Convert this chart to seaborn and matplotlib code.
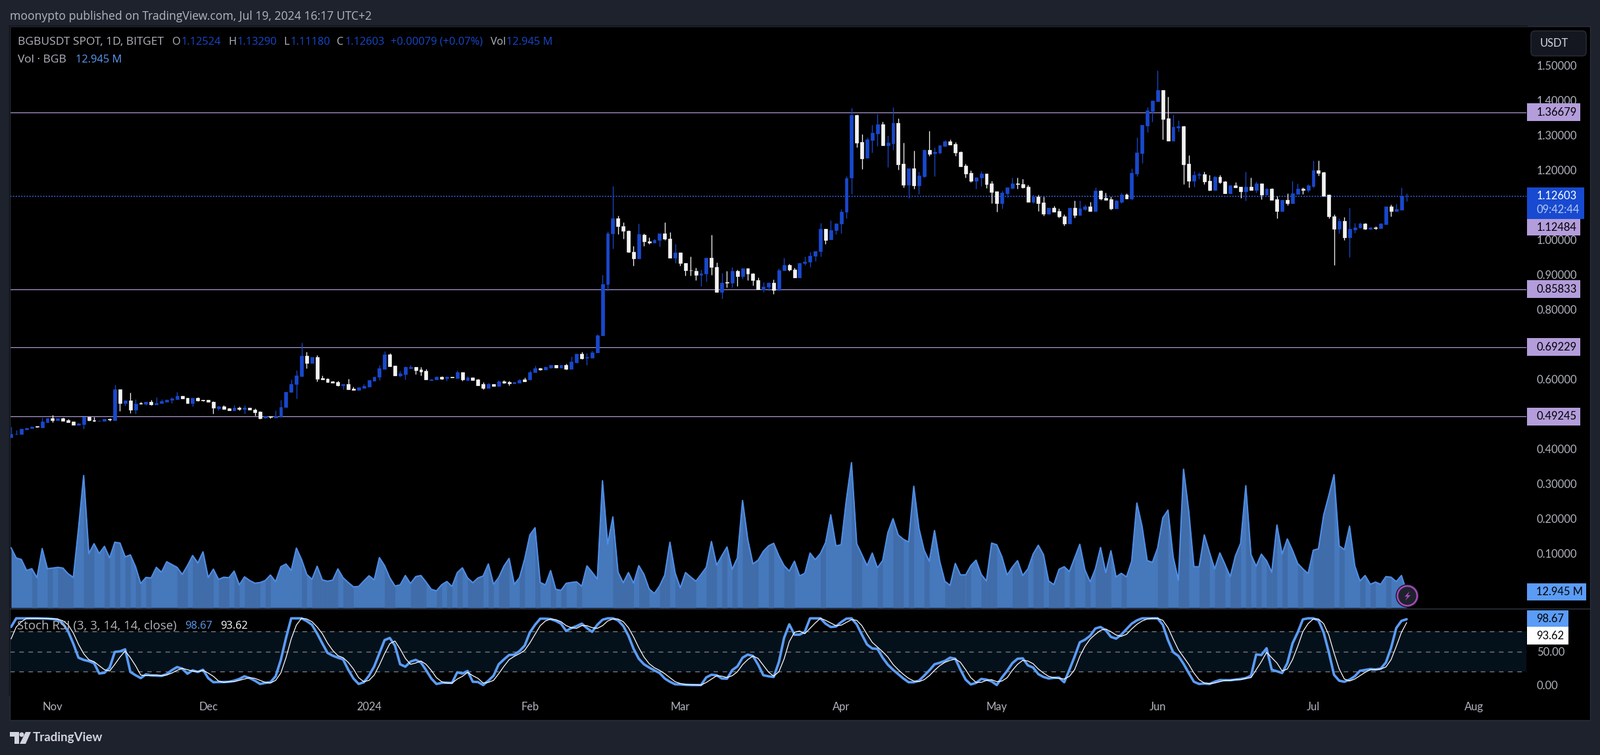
import numpy as np
import pandas as pd
import matplotlib
matplotlib.use("Agg")
import matplotlib.pyplot as plt
from matplotlib.patches import Rectangle, Circle, Polygon, FancyBboxPatch
from matplotlib.transforms import IdentityTransform
import seaborn as sns

opens = [.433,.442,.443,.456,.459,.465,.462,.477,.488,.483,
.488,.482,.478,.469,.471,.491,.483,.480,.481,.486,
.483,.570,.532,.538,.513,.532,.530,.535,.528,.532,
.535,.541,.543,.551,.546,.531,.546,.540,.540,.534,
.516,.522,.516,.511,.518,.515,.517,.513,.506,.489,
.494,.490,.493,.519,.564,.585,.609,.667,.646,.663,
.603,.601,.593,.592,.583,.586,.573,.569,.575,.579,
.596,.606,.630,.671,.639,.611,.614,.632,.635,.627,
.623,.598,.600,.607,.602,.606,.603,.620,.598,.605,
.600,.585,.575,.586,.581,.593,.592,.588,.590,.600,
.600,.620,.632,.627,.634,.641,.634,.641,.630,.649,
.673,.662,.662,.676,.725,.873,1.018,1.062,1.040,1.026,
.966,.946,1.015,.996,.992,.999,1.019,1.004,.948,.964,
.934,.913,.911,.899,.903,.949,.922,.850,.878,.876,
.911,.895,.919,.903,.885,.858,.865,.877,.856,.912,
.928,.915,.891,.934,.937,.954,.967,1.032,1.001,1.028,
1.046,1.080,1.178,1.358,1.281,1.235,1.287,1.306,1.332,1.272,
1.277,1.336,1.219,1.159,1.206,1.157,1.183,1.258,1.248,1.251,
1.270,1.283,1.275,1.253,1.213,1.193,1.170,1.178,1.191,1.162,
1.140,1.106,1.134,1.149,1.162,1.161,1.153,1.110,1.125,1.108,
1.076,1.093,1.082,1.068,1.046,1.093,1.072,1.089,1.095,1.083,
1.142,1.121,1.117,1.091,1.110,1.130,1.119,1.191,1.249,1.328,
1.369,1.398,1.430,1.349,1.285,1.322,1.326,1.219,1.170,1.186,
1.189,1.170,1.144,1.181,1.168,1.134,1.157,1.153,1.140,1.153,
1.144,1.162,1.130,1.146,1.117,1.083,1.115,1.106,1.132,1.146,
1.144,1.155,1.200,1.194,1.129,1.068,1.031,1.055,1.008,1.029,
1.035,1.046,1.031,1.036,1.033,1.044,1.095,1.082,1.087,1.12524]

highs = [.463,.454,.457,.462,.465,.465,.489,.488,.497,.488,
.489,.485,.479,.474,.491,.492,.491,.483,.486,.488,
.584,.571,.538,.561,.542,.535,.535,.540,.549,.542,
.542,.549,.563,.552,.546,.547,.549,.540,.540,.537,
.523,.525,.518,.525,.522,.525,.518,.516,.509,.494,
.494,.510,.540,.564,.600,.625,.705,.678,.663,.669,
.610,.602,.595,.595,.586,.601,.578,.576,.585,.597,
.606,.641,.680,.675,.639,.624,.636,.641,.635,.635,
.629,.601,.609,.609,.609,.607,.625,.620,.609,.605,
.601,.591,.589,.586,.597,.598,.595,.592,.601,.605,
.625,.638,.634,.636,.641,.641,.641,.644,.666,.673,
.679,.675,.683,.730,.900,1.024,1.154,1.070,1.050,1.027,
.982,1.046,1.019,1.008,1.004,1.019,1.050,1.023,.989,.964,
.934,.953,.921,.915,.949,1.015,.936,.906,.910,.923,
.915,.919,.919,.906,.892,.879,.879,.887,.919,.948,
.932,.921,.934,.953,.966,.968,1.048,1.032,1.057,1.048,
1.089,1.183,1.380,1.360,1.304,1.294,1.330,1.362,1.339,1.300,
1.381,1.349,1.279,1.206,1.257,1.196,1.260,1.313,1.266,1.272,
1.287,1.289,1.281,1.255,1.219,1.200,1.181,1.198,1.191,1.170,
1.140,1.142,1.151,1.179,1.179,1.176,1.159,1.129,1.129,1.125,
1.093,1.097,1.091,1.074,1.093,1.112,1.112,1.102,1.110,1.151,
1.144,1.136,1.125,1.114,1.136,1.134,1.206,1.294,1.330,1.381,
1.399,1.486,1.430,1.411,1.360,1.343,1.328,1.243,1.198,1.194,
1.196,1.187,1.185,1.187,1.170,1.159,1.166,1.153,1.196,1.178,
1.168,1.162,1.149,1.149,1.127,1.115,1.134,1.170,1.162,1.151,
1.161,1.228,1.228,1.196,1.130,1.074,1.061,1.065,1.093,1.048,
1.050,1.048,1.038,1.040,1.048,1.095,1.102,1.104,1.151,1.1329]

lows = [.433,.441,.443,.456,.459,.461,.462,.477,.477,.483,
.481,.477,.469,.469,.458,.481,.479,.480,.481,.481,
.483,.509,.524,.503,.501,.529,.526,.526,.528,.532,
.535,.532,.543,.544,.531,.522,.537,.537,.534,.501,
.511,.515,.511,.511,.511,.501,.513,.496,.486,.488,
.488,.489,.490,.519,.564,.545,.609,.631,.646,.593,
.600,.592,.590,.581,.571,.571,.569,.569,.575,.579,
.596,.598,.630,.637,.611,.607,.600,.631,.614,.611,
.600,.595,.600,.600,.596,.604,.603,.596,.596,.598,
.583,.571,.575,.581,.581,.588,.583,.588,.590,.593,
.598,.620,.625,.627,.632,.634,.634,.628,.630,.647,
.658,.641,.662,.676,.725,.854,.975,1.016,1.004,.963,
.925,.946,.982,.989,.992,.980,1.000,.948,.934,.925,
.898,.898,.885,.868,.881,.900,.850,.831,.864,.864,
.868,.889,.885,.870,.858,.851,.854,.845,.856,.912,
.910,.891,.891,.927,.923,.940,.953,.989,1.001,1.016,
1.019,1.061,1.132,1.266,1.203,1.235,1.251,1.270,1.272,1.210,
1.258,1.202,1.151,1.121,1.147,1.132,1.178,1.241,1.183,1.247,
1.268,1.273,1.241,1.211,1.178,1.166,1.147,1.155,1.149,1.106,
1.080,1.091,1.123,1.147,1.147,1.149,1.110,1.106,1.082,1.070,
1.074,1.080,1.063,1.042,1.046,1.063,1.072,1.085,1.083,1.083,
1.114,1.115,1.087,1.091,1.106,1.119,1.114,1.183,1.221,1.309,
1.339,1.398,1.289,1.285,1.285,1.311,1.161,1.151,1.153,1.176,
1.161,1.142,1.144,1.162,1.134,1.134,1.151,1.121,1.112,1.144,
1.136,1.117,1.130,1.115,1.061,1.083,1.099,1.106,1.132,1.132,
1.138,1.151,1.185,1.127,1.061,.927,1.018,.999,.950,1.021,
1.033,1.029,1.029,1.029,1.033,1.044,1.067,1.082,1.087,1.1118]

closes = [.443,.443,.457,.459,.464,.463,.478,.487,.482,.488,
.481,.477,.469,.472,.491,.482,.480,.481,.485,.484,
.570,.532,.538,.513,.530,.530,.534,.527,.532,.537,
.541,.544,.551,.544,.531,.546,.539,.538,.534,.517,
.522,.515,.511,.517,.514,.517,.513,.505,.488,.494,
.491,.494,.519,.564,.585,.610,.667,.646,.663,.601,
.600,.592,.590,.583,.586,.571,.569,.576,.580,.597,
.606,.631,.671,.637,.611,.616,.635,.635,.625,.622,
.600,.600,.607,.601,.607,.604,.620,.600,.605,.598,
.583,.575,.586,.581,.593,.590,.588,.591,.598,.593,
.620,.632,.627,.635,.641,.634,.641,.630,.651,.673,
.660,.664,.677,.726,.873,1.019,1.062,1.039,1.026,.965,
.946,1.016,.995,.992,1.000,1.019,1.003,.948,.964,.933,
.912,.912,.899,.903,.949,.922,.850,.877,.876,.911,
.895,.919,.903,.884,.858,.866,.877,.856,.913,.928,
.914,.891,.934,.937,.954,.968,1.032,1.000,1.028,1.047,
1.081,1.177,1.358,1.279,1.234,1.289,1.307,1.332,1.272,1.279,
1.336,1.217,1.159,1.206,1.157,1.185,1.258,1.247,1.253,1.272,
1.283,1.273,1.251,1.211,1.191,1.170,1.179,1.191,1.161,1.138,
1.106,1.136,1.151,1.162,1.161,1.151,1.110,1.125,1.106,1.076,
1.093,1.080,1.067,1.046,1.093,1.072,1.091,1.095,1.083,1.142,
1.119,1.115,1.091,1.112,1.130,1.119,1.193,1.251,1.330,1.371,
1.399,1.430,1.347,1.285,1.324,1.326,1.217,1.170,1.187,1.189,
1.168,1.144,1.181,1.166,1.134,1.157,1.151,1.140,1.153,1.144,
1.162,1.130,1.146,1.115,1.083,1.115,1.106,1.134,1.146,1.144,
1.157,1.200,1.193,1.127,1.067,1.031,1.055,1.008,1.031,1.036,
1.046,1.031,1.036,1.033,1.046,1.095,1.082,1.089,1.127,1.12603]

volume_m = [49.2,40.8,39.5,30.5,32.0,24.6,48.5,32.0,32.5,33.1,
32.5,27.8,24.9,65,108.4,44.4,52.5,44.4,50.3,40.8,
53.7,53,41.7,43.3,33.6,19.8,24.8,24.4,33.1,29.1,
37.7,35.4,33.1,27.3,34.5,42.8,36.7,45.8,24.8,31.6,
23.2,25,24.6,30,18.7,25.3,22.3,20.1,20.6,22.3,
26.8,21.4,33.6,35.8,30.5,48.9,39.5,27.3,23.3,34,
22.8,21.7,22.6,31.8,24.6,20.6,17.1,17.4,21.9,26.2,
22.8,41.1,34.5,24.6,17.8,18.7,26.4,19.8,25.5,26.4,
21,15.1,13.8,18.8,21.5,17.4,28.7,32.7,24.4,20.5,
24.4,26,35.9,19.2,24.8,34.1,40.4,19.2,24.6,39.9,
59.7,65.6,20.7,18.7,30.4,15.1,14.2,20,20.7,21.2,
17.6,34.3,29.1,23.5,104.1,52.1,74.4,29.1,20.5,28.8,
20.1,34.5,27.3,15.3,11.7,17.8,26.8,53.7,28.6,16.3,
28.8,25.2,21.7,27.3,33.1,54.3,34.9,42.6,49.8,31.5,
40.8,87.9,56.1,35.9,39,46.2,50.7,52.8,42.6,34.5,
30,38.1,26.1,28.2,44.8,39.4,44.4,53.4,76.2,50.7,
51.6,88.4,119,52.5,43.5,34.5,44.8,32.7,38.6,61.5,
73,59.7,56.1,53.9,99.6,65.1,47.1,38.1,63.3,38.1,
21.6,18.3,36.3,26.9,26.9,34.5,39,27.3,21.9,53,
51.6,41.7,26.8,33.3,38.6,26.4,31.8,44,51.2,43.5,
21.9,18.9,31.5,33.6,29.6,40.8,52,30.9,21.2,31.8,
49.4,28.8,46.7,25.2,28.2,25.2,38.1,85.8,66.9,38.6,
37.2,48.9,73.7,80,41.7,22.5,113.6,79.5,33.6,33.6,
59.7,45.3,31.8,44.9,35.4,25.5,42.6,52.8,100.1,43.5,
34,43.9,38.5,29.1,67.8,44,56.4,47.1,36.3,31.8,
28,47.1,48.3,75.9,92,109.1,50.7,47.6,66.9,34.5,
21.9,26.4,19.2,21,19.2,25.5,25,21.4,26.4,12.945]

stoch_k = [87,100,100,100,100,100,99.8,99.5,99,98,
92,80.5,62,41,37.7,35.8,32.8,17.3,18.3,26,
49.6,50.5,53.5,19.6,14.7,10.4,16,14.7,14,13.7,
16.4,22.3,26.9,24.6,17,22,19.6,22.9,10.4,4.2,
4.5,4.5,4.9,6.5,9.1,13.1,10.4,6.5,1.6,3.2,
4.2,13.1,37.7,70.6,100,100,100,95.9,90.3,77.2,
62.4,48.2,44,41,38.4,22.9,9.8,1.6,4.2,14,
27.9,47.6,67.3,70.6,59.1,31.1,27.5,35.1,37.7,33.8,
22.3,9.8,1.6,3.2,3.5,3.2,19,17.3,21,4.9,
4.5,0,6.5,14,31.1,38.4,45,45.6,50.9,59.1,
78.8,90.3,99.5,99.5,98.9,96.2,92,81.1,85.4,88.3,
92,85.4,79.8,90.3,97.9,100,100,96.9,88.7,73.9,
54.2,39.4,31.1,26.2,22,18,9.8,4.9,1.2,.9,
.3,0,0,0,11.4,15.4,14.7,9.8,9.5,22.3,
27.9,41,45.6,43.6,30.5,14.7,13.1,12.1,34.4,70.6,
91,75.5,75.5,79.8,100,100,100,92,87,87.7,
94.3,99.5,100,91,75.5,60.7,54.8,54.2,41,30.5,
22.9,16.4,9.8,4.2,4.2,6.5,14,22,31.1,33.4,
36.1,41,39.4,22.9,8.1,.9,3.2,9.1,8.1,5.5,
0,11.4,21.3,32.8,39.4,40,29.5,26.2,16.4,12.1,
9.8,10.8,11.1,4.2,22.9,42.7,64,68,73.9,84.7,
87,82.1,72.2,69.6,75.5,83.7,92,96.9,100,100,
100,100,90.3,67.3,49.2,43.6,31.8,18,4.9,1.6,
2.2,1.6,4.9,7.5,7.2,7.2,8.1,9.1,10.4,14,
45.9,45,55.1,22.9,20.6,18,32.8,62.4,78.8,98.5,
100,100,96.9,78.8,49.2,15.4,6.5,4.9,8.1,13.1,
21.3,22.6,23.9,23.3,24.6,33.8,55.8,85.4,96.2,98.67]

stoch_d = [69,87,95,100,100,100,99.9,99.8,99.4,98.8,
96.3,90.5,78,61,47,38,35,29,23,21,
31,42,51,41,29,15,14,14,15,14,
15,18,22,25,23,21,20,22,18,13,
6,4,5,5,7,9,11,10,7,4,
3,7,18,41,69,90,100,99,95,87,
77,63,52,44,41,34,24,11,5,7,
15,30,47,62,66,54,40,31,33,36,
31,22,11,5,3,3,9,13,19,14,
10,3,4,7,17,28,38,43,47,52,
63,76,89,96,99,98,95,89,86,85,
89,89,86,85,89,96,99,99,95,86,
72,56,42,32,26,22,17,11,5,2.3,
.8,.4,.1,0,3.8,8.9,13.9,13.3,11.3,13.9,
19.9,30.4,38.1,43.4,39.9,29.6,19.4,13.3,19.9,39,
65,79,81,77,85,93,100,97,93,89,
89.7,93.9,98,97,89,76,64,57,50,42,
31,23,16,10,6,5,8,14,22,29,
34,37,39,34,23,11,4,4,7,8,
5,6,11,22,31,37,36,32,24,18,
13,11,10,9,13,23,43,58,69,76,
82,84,80,75,73,76,84,91,96,99,
100,100,97,86,69,53,42,31,18,8,
3,2,3,5,7,7,8,8,10,11,
23,35,49,41,33,21,24,38,58,80,
92,99,99,92,75,48,24,9,6,9,
14,19,23,23,24,27,38,58,79,93.62]

month_pos = [8, 38, 69, 100, 129, 160, 190, 221, 251, 282]
month_labels = ["Nov", "Dec", "2024", "Feb", "Mar", "Apr", "May", "Jun", "Jul", "Aug"]
price_ticks = [0.1, 0.2, 0.3, 0.4, 0.6, 0.8, 0.9, 1.0, 1.2, 1.3, 1.4, 1.5]
level_lines = [1.36679, 0.85833, 0.69229, 0.49245]
last_close = 1.12603
second_level = 1.12484
last_volume = 12.945
stoch_levels = [20, 50, 80]
stoch_ticks = [0, 50]

W, H = 2433, 1148
BG = "#1e222d"; GRID = "#2a2e39"; TXT = "#b2b5be"; BLUE = "#1848cc"
LIGHT = "#5b9cf6"; LEVEL = "#b39ddb"
FONT = "Lato"; LEG = "Open Sans"; AX = 11.9

sns.set_theme(style="dark", rc={"font.family": FONT, "axes.facecolor": "black",
                                "figure.facecolor": BG, "axes.edgecolor": "black"})
fig = plt.figure(figsize=(W / 100, H / 100), dpi=100)

def rect(l, t, r, b):
    return [l / W, 1 - b / H, (r - l) / W, (b - t) / H]

def fx(x): return x / W
def fy(y): return 1 - y / H
def pxpt(x, y): return (x, H - y)

fig.patches.append(Rectangle((fx(15), fy(1095)), 2403 / W, 1055 / H, transform=fig.transFigure,
                             fc="black", ec="none", zorder=-1))
fig.patches.append(Rectangle((fx(15), fy(1095)), 2403 / W, 1055 / H, transform=fig.transFigure,
                             fc="none", ec=GRID, lw=1, zorder=0.5))

PL, PR = 15, 2322
ax_vol = fig.add_axes(rect(PL, 40, PR, 926))
ax_price = fig.add_axes(rect(PL, 40, PR, 926), facecolor="none")
ax_rsi = fig.add_axes(rect(PL, 926, PR, 1057))

idx = np.arange(len(closes))
df = pd.DataFrame({"idx": idx, "open": opens, "high": highs, "low": lows, "close": closes,
                   "volume": volume_m, "k": stoch_k, "d": stoch_d})
df["bull"] = df["close"] >= df["open"]
xlim = (-0.228, 292.2)

# volume
ax_vol.fill_between(df["idx"], df["volume"], 0, color="#4678bc", lw=0)
for i in range(len(df) - 1):
    if not df["bull"].values[i + 1]:
        ax_vol.fill_between(df["idx"].values[i:i + 2], df["volume"].values[i:i + 2], 0,
                            color="#406ca9", lw=0)
sns.lineplot(data=df, x="idx", y="volume", ax=ax_vol, color="#4f8ee6", linewidth=1.5,
             errorbar=None, legend=False)
ax_vol.set_xlim(*xlim)
ax_vol.set_ylim((924 - 926) * 0.5394, (924 - 40) * 0.5394)
ax_vol.axis("off")

# candles
cols = [BLUE if b else "#f2f2f2" for b in df["bull"]]
ax_price.vlines(df["idx"], df["low"], df["high"], colors=cols, lw=0.95, zorder=3)
body_lo = df[["open", "close"]].min(axis=1)
ax_price.bar(df["idx"], (df["open"] - df["close"]).abs(), bottom=body_lo, width=0.62,
             color=cols, edgecolor=cols, linewidth=0.5, zorder=4)
for lv in level_lines:
    ax_price.axhline(lv, color=LEVEL, lw=0.85, zorder=2)
ax_price.axhline(last_close, color="#3d6bff", lw=1.0, ls=(0, (1.5, 1.5)), zorder=2)
ax_price.set_xlim(*xlim)
ax_price.set_ylim(1.5 - (926 - 100) / 529.5, 1.5 + 60 / 529.5)
ax_price.set_xticks([])
ax_price.yaxis.tick_right()
ax_price.set_yticks(price_ticks)
ax_price.set_yticklabels([f"{t:.5f}" for t in price_ticks], color=TXT, fontsize=AX)
ax_price.tick_params(axis="y", length=0, pad=10.6)
ax_price.set_xlabel(""); ax_price.set_ylabel("")
ax_price.grid(False)

# stoch
ax_rsi.axhspan(stoch_levels[0], stoch_levels[2], color="#05111a", lw=0, zorder=0)
for lv in stoch_levels:
    ax_rsi.axhline(lv, color="#787b86", lw=1.0, ls=(0, (5, 5)), zorder=1)
sns.lineplot(data=df, x="idx", y="k", ax=ax_rsi, color=LIGHT, linewidth=2.7, errorbar=None, legend=False, zorder=3)
sns.lineplot(data=df, x="idx", y="d", ax=ax_rsi, color="white", linewidth=0.9, errorbar=None, legend=False, zorder=4)
ax_rsi.set_xlim(*xlim)
ax_rsi.set_ylim((1041.6 - 1057) / 1.014, (1041.6 - 926) / 1.014)
ax_rsi.yaxis.tick_right()
ax_rsi.set_yticks(stoch_ticks)
ax_rsi.set_yticklabels([f"{t:.2f}" for t in stoch_ticks], color=TXT, fontsize=AX)
ax_rsi.tick_params(axis="y", length=0, pad=10.6)
ax_rsi.set_xticks(month_pos)
ax_rsi.set_xticklabels(month_labels, color=TXT, fontsize=AX)
ax_rsi.tick_params(axis="x", length=0, pad=7)
ax_rsi.set_xlabel(""); ax_rsi.set_ylabel("")
ax_rsi.grid(False)

fig.add_artist(plt.Line2D([fx(15), fx(2418)], [fy(926), fy(926)], color=GRID, lw=1.2, transform=fig.transFigure))

def ypx(ax, val):
    return H - ax.transData.transform((0, val))[1]

def box(top, bottom, right, fc):
    fig.patches.append(Rectangle((fx(PR), fy(bottom)), (right - PR) / W, (bottom - top) / H,
                                 transform=fig.transFigure, fc=fc, ec="none", zorder=1))

def label(x, y, s, color, size=AX, ha="left", weight="normal", family=FONT):
    fig.text(fx(x), fy(y), s, color=color, fontsize=size, ha=ha, va="center", weight=weight, family=family)

TX = 2336.5
for lv in level_lines:
    yy = ypx(ax_price, lv)
    box(yy - 13.5, yy + 13.5, 2403, LEVEL)
    label(TX, yy, f"{lv:.5f}", "black")
yy = ypx(ax_price, last_close)
box(yy - 13.5, yy + 35, 2409, "#174ad0")
label(TX, yy, f"{last_close:.5f}", "white")
label(TX, yy + 21, "09:42:44", "#b8c8f0")
box(yy + 35, yy + 60, 2403, LEVEL)
label(TX, yy + 47.5, f"{second_level:.5f}", "black")

box(887, 913, 2412, LIGHT)
label(TX, 900, f"{last_volume:.3f} M", "black")
box(928, 953, 2385, LIGHT)
label(TX, 940.5, f"{stoch_k[-1]:.2f}", "black")
box(953, 980, 2385, "white")
label(TX, 966.5, f"{stoch_d[-1]:.2f}", "black")

fig.patches.append(FancyBboxPatch(pxpt(2328, 85), 84, 38, transform=IdentityTransform(),
                                  boxstyle="round,pad=0,rounding_size=6", fc="#14171f", ec=GRID, lw=1, zorder=1))
label(2342, 66, "USDT", "#d1d4dc")

# header text
label(15, 24.5, "moonypto published on TradingView.com, Jul 19, 2024 16:17 UTC+2", TXT, 12.7, family=LEG)
y1 = 64
label(27, y1, "BGBUSDT SPOT, 1D, BITGET", TXT, 12.5, family=LEG)
for x, s in [(262, "O"), (347, "H"), (431, "L"), (512, "C"), (746, "Vol")]:
    label(x, y1, s, TXT, 11.8, family=LEG)
for x, s in [(275, "1.12524"), (360, "1.13290"), (441, "1.11180"), (524, "1.12603"),
             (594, "+0.00079 (+0.07%)"), (770, "12.945 M")]:
    label(x, y1, s, BLUE, 11.8, family=LEG)
label(27, 91, "Vol · BGB", TXT, 12.5, family=LEG)
label(115, 91, "12.945 M", LIGHT, 11.8, family=LEG)
label(26, 952, "Stoch RSI (3, 3, 14, 14, close)", TXT, 13.4, family=LEG)
label(281, 952, f"{stoch_k[-1]:.2f}", LIGHT, 11.8, family=LEG)
label(335, 952, f"{stoch_d[-1]:.2f}", "white", 11.8, family=LEG)

# lightning badge
cx, cy = 2140, 906
fig.patches.append(Circle(pxpt(cx, cy), 17, transform=IdentityTransform(), fc="#1e222d", ec="#14171f", lw=1, zorder=2))
fig.patches.append(Circle(pxpt(cx, cy), 15, transform=IdentityTransform(), fc="#1e222d", ec="#ab47bc", lw=1.8, zorder=2))
bolt = [(3.3, -7), (-4, 1.3), (0, 1.3), (-3.3, 7.3), (5, -1), (0.7, -1)]
fig.patches.append(Polygon([pxpt(cx + a, cy + b) for a, b in bolt], transform=IdentityTransform(),
                           fc="#ab47bc", ec="none", zorder=3))

# brand mark
logo = "#d1d4dc"
fig.patches.append(Polygon([pxpt(*p) for p in [(15, 1113), (29, 1113), (29, 1131), (22, 1131), (22, 1120), (15, 1120)]],
                           transform=IdentityTransform(), fc=logo, ec="none"))
fig.patches.append(Circle(pxpt(33, 1117), 3.5, transform=IdentityTransform(), fc=logo, ec="none"))
fig.patches.append(Polygon([pxpt(*p) for p in [(39, 1113), (47, 1113), (39, 1131), (30, 1131)]],
                           transform=IdentityTransform(), fc=logo, ec="none"))
label(50, 1122, "TradingView", logo, 13.5, weight="bold")

fig.savefig("out.png", dpi=100, facecolor=BG)
